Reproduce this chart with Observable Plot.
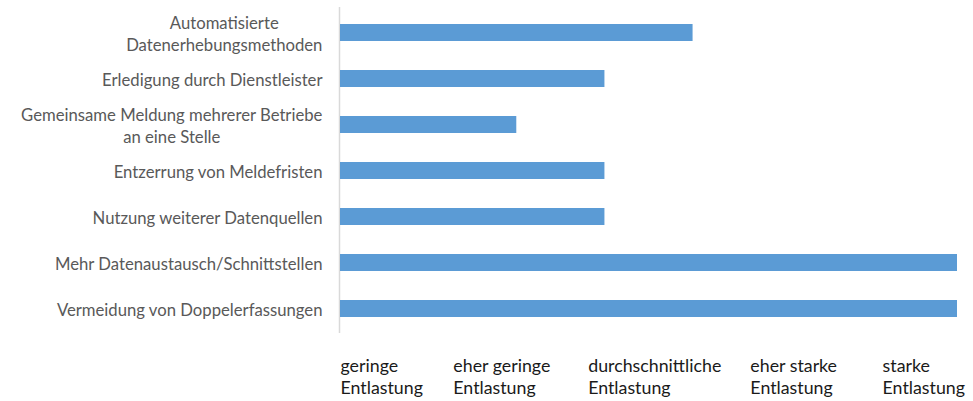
<!DOCTYPE html>
<html><head><meta charset="utf-8">
<script src="https://cdn.jsdelivr.net/npm/d3@7"></script>
<script src="https://cdn.jsdelivr.net/npm/@observablehq/plot@0.6"></script>
<style>body{margin:0;background:#fff}#chart svg{display:block}</style>
</head><body><div id="chart"></div>
<script>
const categories = [
  "Automatisierte\nDatenerhebungsmethoden",
  "Erledigung durch Dienstleister",
  "Gemeinsame Meldung mehrerer Betriebe\nan eine Stelle",
  "Entzerrung von Meldefristen",
  "Nutzung weiterer Datenquellen",
  "Mehr Datenaustausch/Schnittstellen",
  "Vermeidung von Doppelerfassungen"
];
const values = [4, 3, 2, 3, 3, 7, 7];
const scaleLabels = [
  "geringe\nEntlastung",
  "eher geringe\nEntlastung",
  "durchschnittliche\nEntlastung",
  "eher starke\nEntlastung",
  "starke\nEntlastung"
];
const scaleLabelAt = [0, 1.28, 2.81, 4.65, 6.15];

const data = categories.map((c, i) => ({c, v: values[i]}));
const labelMap = new Map(scaleLabelAt.map((p, i) => [p, scaleLabels[i]]));

const chart = Plot.plot({
  width: 973, height: 401,
  marginLeft: 340, marginRight: 16, marginTop: 7, marginBottom: 68,
  x: {domain: [0, 7], axis: null},
  y: {domain: categories, paddingInner: 0.636, paddingOuter: 0.31, axis: null},
  style: {fontFamily: "Lato", background: "#fff"},
  marks: [
    Plot.ruleX([0], {stroke: "#D9D9D9", strokeWidth: 1.5, dx: -1}),
    Plot.barX(data, {x: "v", y: "c", fill: "#5B9BD5"}),
    Plot.axisY({tickSize: 0, tickPadding: 18, fontSize: 16.7, lineHeight: 1.32, fill: "#595959", textAnchor: "end", label: null}),
    Plot.axisX({ticks: scaleLabelAt, tickFormat: d => labelMap.get(d), tickSize: 0, tickPadding: 23,
      textAnchor: "start", fontSize: 17.8, lineHeight: 1.22, fill: "#1a1a1a", label: null})
  ]
});
document.getElementById("chart").appendChild(chart);

// center multi-line y labels within their right-aligned block
chart.querySelectorAll('g[aria-label="y-axis tick label"] text').forEach(t => {
  const spans = t.querySelectorAll("tspan");
  if (spans.length > 1) {
    const w = t.getBBox().width;
    t.setAttribute("text-anchor", "middle");
    spans.forEach(s => s.setAttribute("x", -w / 2));
  }
});
</script>
</body></html>
